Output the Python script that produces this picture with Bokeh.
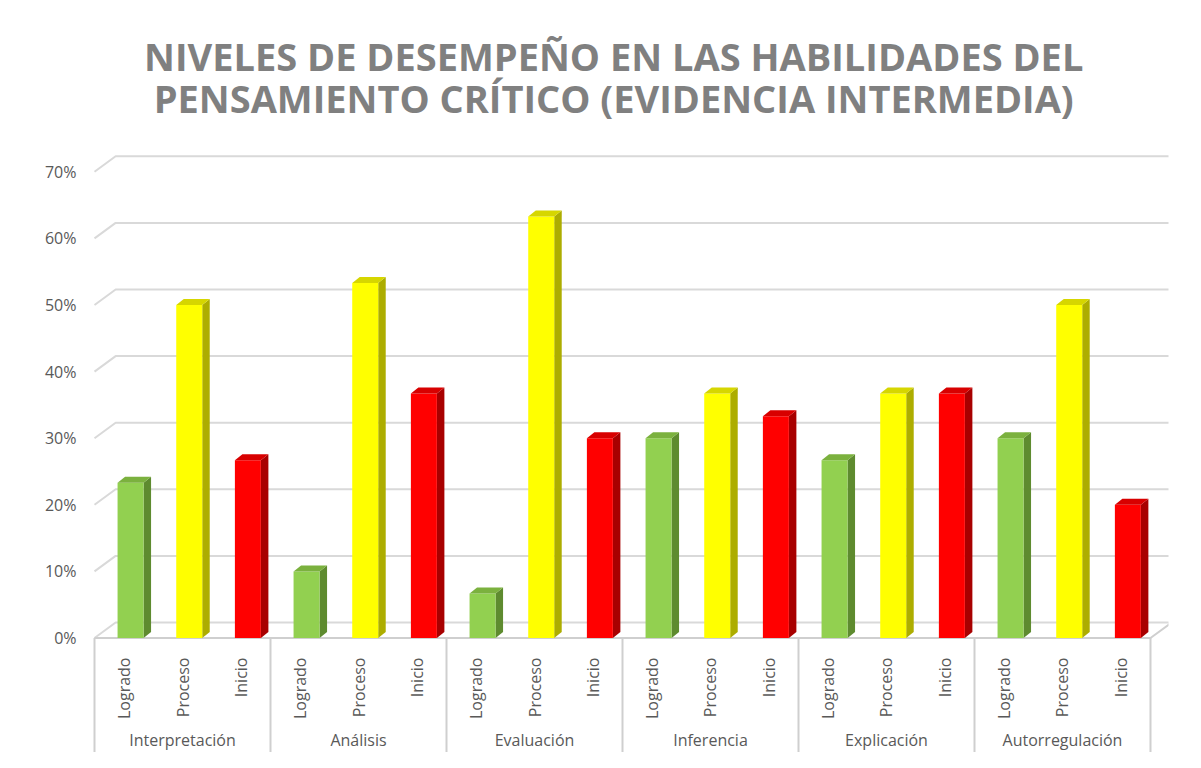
import math
from bokeh.plotting import figure
from bokeh.models import (FactorRange, Range1d, NumeralTickFormatter, FixedTicker)
from bokeh.core.properties import value
from bokeh.embed import file_html
from bokeh.resources import INLINE

# ---------------- data ----------------
skills = ["Interpretación", "Análisis", "Evaluación", "Inferencia", "Explicación", "Autorregulación"]
levels = ["Logrado", "Proceso", "Inicio"]
logrado = [0.233, 0.100, 0.067, 0.300, 0.267, 0.300]
proceso = [0.500, 0.533, 0.633, 0.367, 0.367, 0.500]
inicio = [0.267, 0.367, 0.300, 0.333, 0.367, 0.200]
y_ticks = [0.0, 0.1, 0.2, 0.3, 0.4, 0.5, 0.6, 0.7]
title_lines = ["NIVELES DE DESEMPEÑO EN LAS HABILIDADES DEL",
               "PENSAMIENTO CRÍTICO (EVIDENCIA INTERMEDIA)"]

# ---------------- styles / geometry ----------------
front_colors = {"Logrado": "#92D050", "Proceso": "#FFFF00", "Inicio": "#FF0000"}
side_colors = {"Logrado": "#5E8B2F", "Proceso": "#ADAD00", "Inicio": "#A80000"}
top_colors = {"Logrado": "#7BB13E", "Proceso": "#D6D600", "Inicio": "#D80000"}
FACE_L, FACE_R = -0.107, 0.336      # front face edges (category units)
DEPTH_X, DEPTH_Y = 0.128, 0.009     # bar depth
GRID_DX, GRID_DY = 0.36, 0.0233     # back-wall offset
Y0, Y1 = -0.1719, 0.9572
LEVEL_LABEL_Y = -0.0293
GROUP_LABEL_Y = -0.1524
TITLE_Y = [0.8746, 0.8101]
TITLE_X_OFFSET = 0.35
GRID_COLOR = "#D9D9D9"
TEXT_COLOR = "#595959"
FONT = "Open Sans"

factors = [(s, l) for s in skills for l in levels]
x_range = FactorRange(*factors, group_padding=0, factor_padding=0,
                      range_padding=0.307, range_padding_units="absolute")

p = figure(width=1185, height=752, x_range=x_range, y_range=Range1d(Y0, Y1),
           output_backend="svg", toolbar_location=None, title=None,
           x_axis_location=None, y_axis_location="left",
           min_border_left=76, min_border_right=17, min_border_top=0,
           min_border_bottom=0)
p.outline_line_color = None
p.xgrid.visible = False
p.ygrid.visible = False
p.background_fill_color = "white"
p.border_fill_color = "white"

# y axis
yax = p.yaxis[0]
yax.ticker = FixedTicker(ticks=y_ticks)
yax.formatter = NumeralTickFormatter(format="0%")
yax.axis_line_color = None
yax.major_tick_line_color = None
yax.minor_tick_line_color = None
yax.major_tick_out = 0
yax.major_tick_in = 0
yax.major_label_standoff = 0
yax.major_label_text_font = FONT
yax.major_label_text_font_size = "16px"
yax.major_label_text_color = TEXT_COLOR

first = (skills[0], levels[0])
last = (skills[-1], levels[-1])

# title (two lines)
p.text(x=[(skills[2], levels[2], TITLE_X_OFFSET)] * 2, y=TITLE_Y, text=title_lines,
       text_align="center", text_baseline="middle", text_font=value(FONT),
       text_font_size="38px", text_font_style="bold", text_color="#808080")

# 3D gridlines (side wall + back wall)
gxs, gys = [], []
for t in y_ticks:
    gxs.append([first + (-0.5,), first + (-0.5 + GRID_DX,), last + (0.5 + GRID_DX,)])
    gys.append([t, t + GRID_DY, t + GRID_DY])
p.multi_line(xs=gxs, ys=gys, line_color=GRID_COLOR, line_width=2)

# floor front edge and right side
p.line(x=[first + (-0.5,), last + (0.5,), last + (0.5 + GRID_DX,)],
       y=[0, 0, GRID_DY], line_color="#CFCFCF", line_width=2)

# group separators
sxs, sys_ = [], []
for s in skills:
    sxs.append([(s, levels[0], -0.5), (s, levels[0], -0.5)])
    sys_.append([0, Y0])
sxs.append([last + (0.5,), last + (0.5,)])
sys_.append([0, Y0])
p.multi_line(xs=sxs, ys=sys_, line_color="#CFCFCF", line_width=2)

# bars
series = {"Logrado": logrado, "Proceso": proceso, "Inicio": inicio}
fl, fr, ft, fb, fc = [], [], [], [], []
sxs2, sys2, sc = [], [], []
txs, tys, tc = [], [], []
for i, s in enumerate(skills):
    for l in levels:
        v = series[l][i]
        xl = (s, l, FACE_L)
        xr = (s, l, FACE_R)
        xrr = (s, l, FACE_R + DEPTH_X)
        xll = (s, l, FACE_L + DEPTH_X)
        fl.append(xl); fr.append(xr); ft.append(v); fb.append(0.0); fc.append(front_colors[l])
        sxs2.append([xr, xr, xrr, xrr]); sys2.append([0.0, v, v + DEPTH_Y, DEPTH_Y]); sc.append(side_colors[l])
        txs.append([xl, xr, xrr, xll]); tys.append([v, v, v + DEPTH_Y, v + DEPTH_Y]); tc.append(top_colors[l])

p.patches(xs=sxs2, ys=sys2, fill_color=sc, line_color=None)
p.quad(left=fl, right=fr, top=ft, bottom=fb, fill_color=fc, line_color=None)
p.patches(xs=txs, ys=tys, fill_color=tc, line_color=None)

# category labels
p.text(x=factors, y=[LEVEL_LABEL_Y] * len(factors), text=[f[1] for f in factors],
       angle=math.pi / 2, text_align="right", text_baseline="middle",
       text_font=value(FONT), text_font_size="16px", text_color=TEXT_COLOR)
p.text(x=[(s, levels[1]) for s in skills], y=[GROUP_LABEL_Y] * len(skills), text=skills,
       text_align="center", text_baseline="middle",
       text_font=value(FONT), text_font_size="16px", text_color=TEXT_COLOR)

open("out.html", "w").write(file_html(p, INLINE))
